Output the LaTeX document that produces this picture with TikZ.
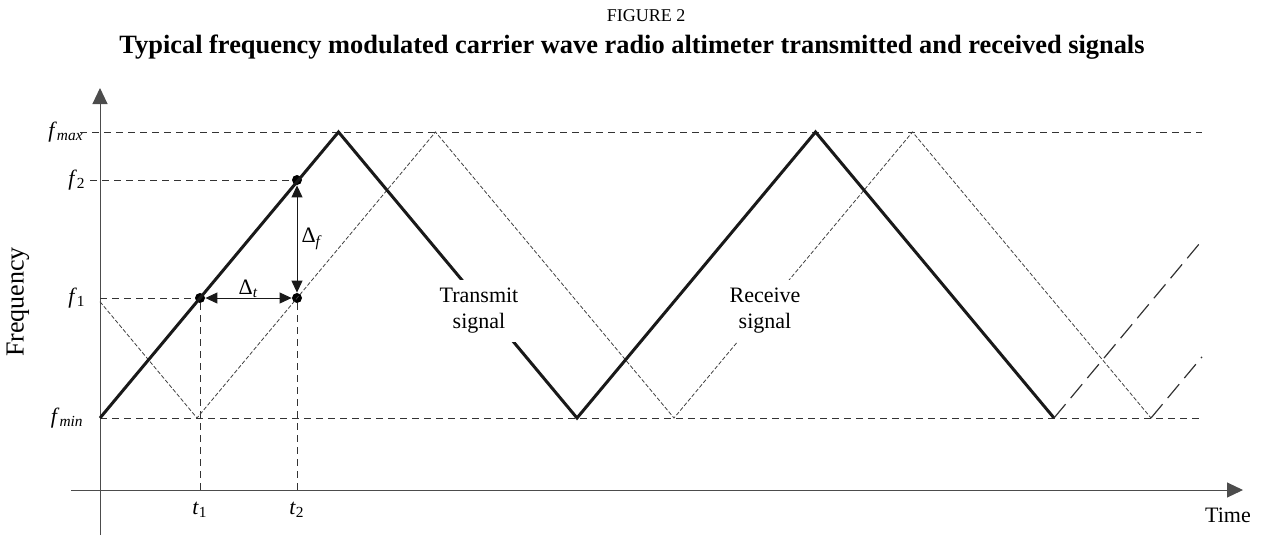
\documentclass[tikz,border=0pt]{standalone}
\usepackage{fontspec}
\setmainfont{Liberation Serif}
\usepackage{tikz}
\usetikzlibrary{arrows.meta,positioning,calc}

\newcommand{\fsub}[2]{\textit{#1}\textsubscript{#2}}

\begin{document}
\begin{tikzpicture}[
            x=0.5pt, y=-0.5pt,
            axis/.style={
                draw=black!70,
                line width=0.5pt,
                -{Triangle[length=8pt,width=7.5pt]}
            },
            guide/.style={
                draw=black!80,
                line width=0.5pt,
                dash pattern=on 3.5pt off 2.5pt
            },
            txline/.style={
                draw=black!90,
                line width=1.5pt
            },
            txext/.style={
                draw=black!80,
                line width=0.6pt,
                dash pattern=on 9pt off 4pt
            },
            rxline/.style={
                draw=black!75,
                line width=0.4pt,
                dash pattern=on 2pt off 1pt
            },
            dimarrow/.style={
                draw=black!90,
                line width=0.5pt,
                {Triangle[length=6pt,width=5.5pt]}-{Triangle[length=6pt,width=5.5pt]}
            },
            dot/.style={
                circle,
                fill=black,
                inner sep=0pt,
                minimum size=5pt
            },
            lbl/.style={
                font=\fontsize{11}{13}\selectfont,
                align=center,
                inner sep=1pt
            },
            sig/.style={
                lbl,
                fill=white,
                inner xsep=2pt,
                inner ysep=4pt
            }
        ]

            \useasboundingbox (0,0) rectangle (1262,536);

            % Layout parameters
            \def\xO{100}        % frequency axis x
            \def\yT{490}        % time axis y
            \def\yMax{132}
            \def\yTwo{180}
            \def\yOne{298}
            \def\yMin{418}
            \def\xEnd{1202}     % right end of guides
            \def\half{238.5}    % half sweep period
            \def\lag{97}        % echo delay
            \def\slope{1.1992}  % (yMin-yMax)/half
            \def\tOne{200}
            \def\tTwo{297}

            % Titles
            \node[font=\fontsize{9}{11}\selectfont] (fig) at (646,16) {FIGURE 2};
            \node[font=\fontsize{13.2}{15}\selectfont\bfseries] (title) at (632,47)
                {Typical frequency modulated carrier wave radio altimeter transmitted and received signals};

            % Axes
            \coordinate (ybot) at (\xO,535);
            \coordinate (ytop) at (\xO,88);
            \coordinate (xleft) at (71,\yT);
            \coordinate (xright) at (1243,\yT);
            \draw[axis] (ybot) -- (ytop);
            \draw[axis] (xleft) -- (xright);

            % Axis labels
            \node[lbl, font=\fontsize{13}{15}\selectfont, rotate=90] (freq) at (18,302) {Frequency};
            \node[lbl] (time) at (1228,515) {Time};

            \node[lbl, anchor=east] (fmax) at (86,\yMax) {\fsub{f}{\textit{max}}};
            \node[lbl, anchor=east] (ftwo) at (88,\yTwo) {\fsub{f}{2}};
            \node[lbl, anchor=east] (fone) at (88,\yOne) {\fsub{f}{1}};
            \node[lbl, anchor=east] (fmin) at (86,\yMin) {\fsub{f}{\textit{min}}};

            \node[lbl] (tone) at (\tOne,510) {\fsub{t}{1}};
            \node[lbl] (ttwo) at (\tTwo,510) {\fsub{t}{2}};

            % Marked points
            \node[dot] (p1) at (\tOne,\yOne) {};
            \node[dot] (p2) at (\tTwo,\yOne) {};
            \node[dot] (p3) at (\tTwo,\yTwo) {};

            % Guide lines
            \draw[guide] (80,\yMax) -- (\xEnd,\yMax);
            \draw[guide] (\xO,\yMin) -- (\xEnd,\yMin);
            \draw[guide] (90,\yTwo) -- (p3);
            \draw[guide] (\xO,\yOne) -- (p1);
            \draw[guide] (p1) -- (\tOne,\yT);
            \draw[guide] (p2) -- (\tTwo,\yT);

            % Sweep corners
            \foreach \i in {0,2,4} {
                \coordinate (tx\i) at ({\xO+\i*\half},\yMin);
                \coordinate (rx\i) at ({\xO+\lag+\i*\half},\yMin);
            }
            \foreach \i in {1,3} {
                \coordinate (tx\i) at ({\xO+\i*\half},\yMax);
                \coordinate (rx\i) at ({\xO+\lag+\i*\half},\yMax);
            }
            \coordinate (rxs) at (\xO,{\yMin-\lag*\slope});
            \coordinate (txe) at (\xEnd,{\yMin-(\xEnd-\xO-4*\half)*\slope});
            \coordinate (rxe) at (\xEnd,{\yMin-(\xEnd-\xO-\lag-4*\half)*\slope});

            % Receive signal
            \draw[rxline] (rxs) -- (rx0) -- (rx1) -- (rx2) -- (rx3) -- (rx4);
            \draw[txext] (rx4) -- (rxe);

            % Transmit signal
            \draw[txline] (tx0) -- (tx1) -- (tx2) -- (tx3) -- (tx4);
            \draw[txext] (tx4) -- (txe);

            % Signal labels
            \node[sig] (txlbl) at (479,311) {Transmit\\signal};
            \node[sig] (rxlbl) at (765,311) {Receive\\signal};

            % Delta arrows
            \draw[dimarrow] (p1) -- (p2) node[lbl, midway, above=-1pt] {Δ\textsubscript{\textit{t}}};
            \draw[dimarrow] (p3) -- (p2) node[lbl, midway, right=1pt] {Δ\textsubscript{\textit{f}}};

        \end{tikzpicture}
\end{document}
